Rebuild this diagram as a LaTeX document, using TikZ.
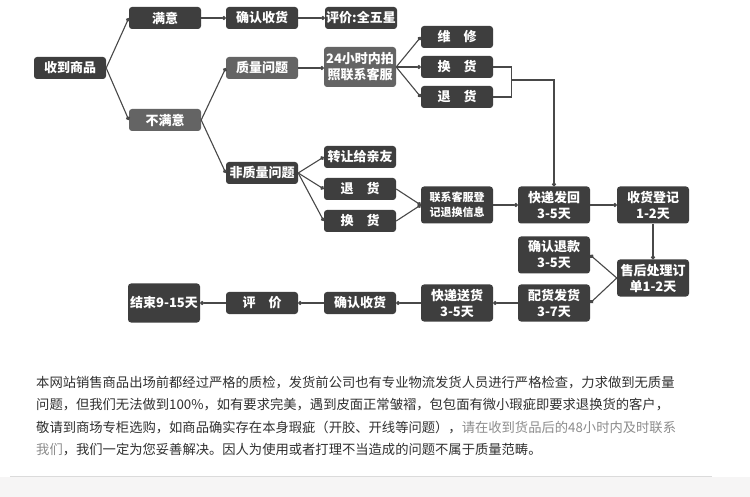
\documentclass[tikz,border=0pt]{standalone}
\usepackage{fontspec}
\setmainfont{Noto Sans CJK SC}
\usepackage{xcolor}
\definecolor{flowdark}{RGB}{62,62,62}
\definecolor{flowmid}{RGB}{100,100,100}
\definecolor{flowline}{RGB}{72,72,72}
\definecolor{txtdark}{RGB}{48,48,48}
\definecolor{txtlight}{RGB}{140,140,140}
\definecolor{stripgray}{RGB}{246,245,245}
\usetikzlibrary{arrows.meta}
\tikzset{
  box/.style={fill=flowdark,text=white,rounded corners=3pt,minimum width=72pt,minimum height=22pt,
    inner sep=0pt,align=center,font=\bfseries\fontsize{13}{16}\selectfont},
  boxmid/.style={box,fill=flowmid},
  tall/.style={minimum height=37pt},
  con/.style={draw=flowline,line width=1.1pt,-{Circle[length=4pt]}},
}
\newcommand{\paraline}[3]{\node[anchor=base west,inner sep=0pt,text=txtdark,font=\fontsize{13.3}{16}\selectfont] (#1) at (36,#2) {#3};}

\begin{document}
\begin{tikzpicture}[x=1pt,y=-1pt]
\useasboundingbox (0,0) rectangle (750,497);
\fill[white] (0,0) rectangle (750,497);
% ---- strip at the bottom ----
\fill[stripgray] (0,477) rectangle (750,497);
\draw[black!14,line width=0.8pt] (10,476.5) -- (712,476.5);
% ---- first column ----
\node[box] (recv) at (70,68) {收到商品};
\node[box] (sat) at (165,18) {满意};
\node[boxmid] (unsat) at (165,120) {不满意};
% ---- satisfied ----
\node[box] (conf1) at (262,18) {确认收货};
\node[box] (star) at (361,18) {评价:全五星};
% ---- quality problem ----
\node[boxmid] (qual) at (262,68) {质量问题};
\node[boxmid,minimum height=40pt] (photo) at (360,67) {24小时内拍\\照联系客服};
\node[box] (fix) at (457,37) {维\quad 修};
\node[box] (swap1) at (457,67) {换\quad 货};
\node[box] (ret1) at (457,97) {退\quad 货};
% ---- no quality problem ----
\node[box] (nonq) at (262,173) {非质量问题};
\node[box] (gift) at (360,157) {转让给亲友};
\node[box] (ret2) at (360,189) {退\quad 货};
\node[box] (swap2) at (360,221) {换\quad 货};
\node[box,tall,font=\bfseries\fontsize{11}{15}\selectfont] (reg) at (457,205) {联系客服登\\记退换信息};
% ---- return loop ----
\node[box,tall] (back) at (554,205) {快递发回\\3-5天};
\node[box,tall] (log) at (653,205) {收货登记\\1-2天};
\node[box,tall] (after) at (653,278) {售后处理订\\单1-2天};
\node[box,tall] (refund) at (554,255) {确认退款\\3-5天};
\node[box,tall] (pack) at (554,303) {配货发货\\3-7天};
\node[box,tall] (deliv) at (457,303) {快递送货\\3-5天};
\node[box] (conf2) at (360,303) {确认收货};
\node[box] (rate) at (262,303) {评\quad 价};
\node[box,minimum height=39pt] (done) at (164,303) {结束9-15天};
% ---- connectors ----
\draw[con] (recv.east) -- (sat.west);
\draw[con] (recv.east) -- (unsat.west);
\draw[con] (sat) -- (conf1);
\draw[con] (conf1) -- (star);
\draw[con] (unsat.east) -- (qual.west);
\draw[con] (unsat.east) -- (nonq.west);
\draw[con] (qual.east) -- (qual.east -| photo.west);
\foreach \t in {fix,swap1,ret1}{ \draw[con] (photo.east) -- (\t.west);}
\foreach \t in {gift,ret2,swap2}{ \draw[con] (nonq.east) -- (\t.west);}
\draw[flowline,line width=1.1pt] (swap1.east) -- ++(18,0) coordinate (brA) |- (ret1.east);
\draw[con] (brA |- 0,80) -| (back.north);
\draw[con] (ret2.east) -- (reg.west);
\draw[con] (swap2.east) -- (reg.west);
\draw[con] (reg) -- (back);
\draw[con] (back) -- (log);
\draw[con] (log) -- (after);
\draw[con] (after.west) -- (refund.east);
\draw[con] (after.west) -- (pack.east);
\draw[con] (pack) -- (deliv);
\draw[con] (deliv) -- (conf2);
\draw[con] (conf2) -- (rate);
\draw[con] (rate) -- (done);
% ---- note text ----
\paraline{l1}{387}{本网站销售商品出场前都经过严格的质检，发货前公司也有专业物流发货人员进行严格检查，力求做到无质量}
\paraline{l2}{409.5}{问题，但我们无法做到100\%，如有要求完美，遇到皮面正常皱褶，包包面有微小瑕疵即要求退换货的客户，}
\paraline{l3}{432}{敬请到商场专柜选购，如商品确实存在本身瑕疵（开胶、开线等问题），\textcolor{txtlight}{请在收到货品后的48小时内及时联系}}
\paraline{l4}{454}{\textcolor{txtlight}{我们}，我们一定为您妥善解决。因人为使用或者打理不当造成的问题不属于质量范畴。}
\end{tikzpicture}
\end{document}
